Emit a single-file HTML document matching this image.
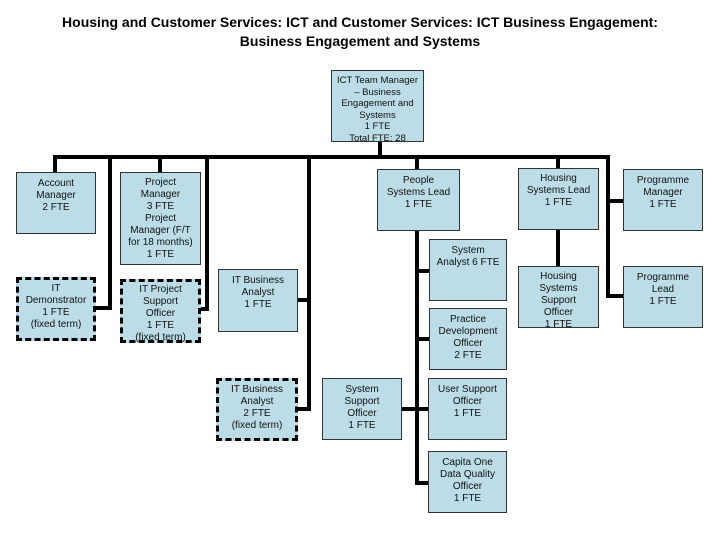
<!DOCTYPE html>
<html><head><meta charset="utf-8"><style>
body{margin:0;width:720px;height:540px;background:#fff;position:relative;font-family:"Liberation Sans",sans-serif;overflow:hidden}
.t{position:absolute;left:0;width:720px;top:13px;text-align:center;font-weight:bold;font-size:14px;line-height:19px}
.b{position:absolute;background:#bcdde8;border:1px solid #333;box-sizing:border-box;font-size:10px;line-height:12px;text-align:center;padding-top:5px;color:#111}
.d{border:3px dashed #000;padding-top:3px}
.l{position:absolute;background:#000}
</style></head><body>
<div class="t">Housing and Customer Services: ICT and Customer Services: ICT Business Engagement:<br>Business Engagement and Systems</div>
<!-- lines -->
<div class="l" style="left:378px;top:141px;width:4px;height:18px"></div>
<div class="l" style="left:53px;top:155px;width:557px;height:4px"></div>
<div class="l" style="left:53px;top:155px;width:4px;height:18px"></div>
<div class="l" style="left:108px;top:155px;width:4px;height:155px"></div>
<div class="l" style="left:96px;top:306px;width:16px;height:4px"></div>
<div class="l" style="left:158px;top:155px;width:4px;height:18px"></div>
<div class="l" style="left:205px;top:155px;width:4px;height:156px"></div>
<div class="l" style="left:201px;top:307px;width:8px;height:4px"></div>
<div class="l" style="left:307px;top:155px;width:4px;height:256px"></div>
<div class="l" style="left:297px;top:298px;width:14px;height:4px"></div>
<div class="l" style="left:297px;top:407px;width:14px;height:4px"></div>
<div class="l" style="left:415px;top:155px;width:4px;height:330px"></div>
<div class="l" style="left:415px;top:269px;width:14px;height:4px"></div>
<div class="l" style="left:415px;top:337px;width:14px;height:4px"></div>
<div class="l" style="left:401px;top:407px;width:28px;height:4px"></div>
<div class="l" style="left:415px;top:481px;width:14px;height:4px"></div>
<div class="l" style="left:556px;top:155px;width:4px;height:112px"></div>
<div class="l" style="left:606px;top:155px;width:4px;height:143px"></div>
<div class="l" style="left:606px;top:199px;width:17px;height:4px"></div>
<div class="l" style="left:606px;top:294px;width:17px;height:4px"></div>
<!-- boxes -->
<div class="b" style="left:331px;top:70px;width:93px;height:72px;padding-top:4px;font-size:9.5px;line-height:11.5px">ICT Team Manager<br>– Business<br>Engagement and<br>Systems<br>1 FTE<br>Total FTE: 28</div>
<div class="b" style="left:16px;top:172px;width:80px;height:62px">Account<br>Manager<br>2 FTE</div>
<div class="b d" style="left:16px;top:277px;width:80px;height:64px">IT<br>Demonstrator<br>1 FTE<br>(fixed term)</div>
<div class="b" style="left:120px;top:172px;width:81px;height:93px;padding-top:4px">Project<br>Manager<br>3 FTE<br>Project<br>Manager (F/T<br>for 18 months)<br>1 FTE</div>
<div class="b d" style="left:120px;top:279px;width:81px;height:64px;padding-top:2px">IT Project<br>Support<br>Officer<br>1 FTE<br>(fixed term)</div>
<div class="b" style="left:218px;top:269px;width:80px;height:63px">IT Business<br>Analyst<br>1 FTE</div>
<div class="b d" style="left:216px;top:378px;width:82px;height:63px">IT Business<br>Analyst<br>2 FTE<br>(fixed term)</div>
<div class="b" style="left:377px;top:169px;width:83px;height:62px">People<br>Systems Lead<br>1 FTE</div>
<div class="b" style="left:429px;top:239px;width:78px;height:62px">System<br>Analyst 6 FTE</div>
<div class="b" style="left:429px;top:308px;width:78px;height:62px">Practice<br>Development<br>Officer<br>2 FTE</div>
<div class="b" style="left:322px;top:378px;width:80px;height:62px">System<br>Support<br>Officer<br>1 FTE</div>
<div class="b" style="left:428px;top:378px;width:79px;height:62px">User Support<br>Officer<br>1 FTE</div>
<div class="b" style="left:428px;top:451px;width:79px;height:62px">Capita One<br>Data Quality<br>Officer<br>1 FTE</div>
<div class="b" style="left:518px;top:168px;width:81px;height:62px;padding-top:4px">Housing<br>Systems Lead<br>1 FTE</div>
<div class="b" style="left:518px;top:266px;width:81px;height:62px;padding-top:4px">Housing<br>Systems<br>Support<br>Officer<br>1 FTE</div>
<div class="b" style="left:623px;top:169px;width:80px;height:62px">Programme<br>Manager<br>1 FTE</div>
<div class="b" style="left:623px;top:266px;width:80px;height:62px">Programme<br>Lead<br>1 FTE</div>
</body></html>
